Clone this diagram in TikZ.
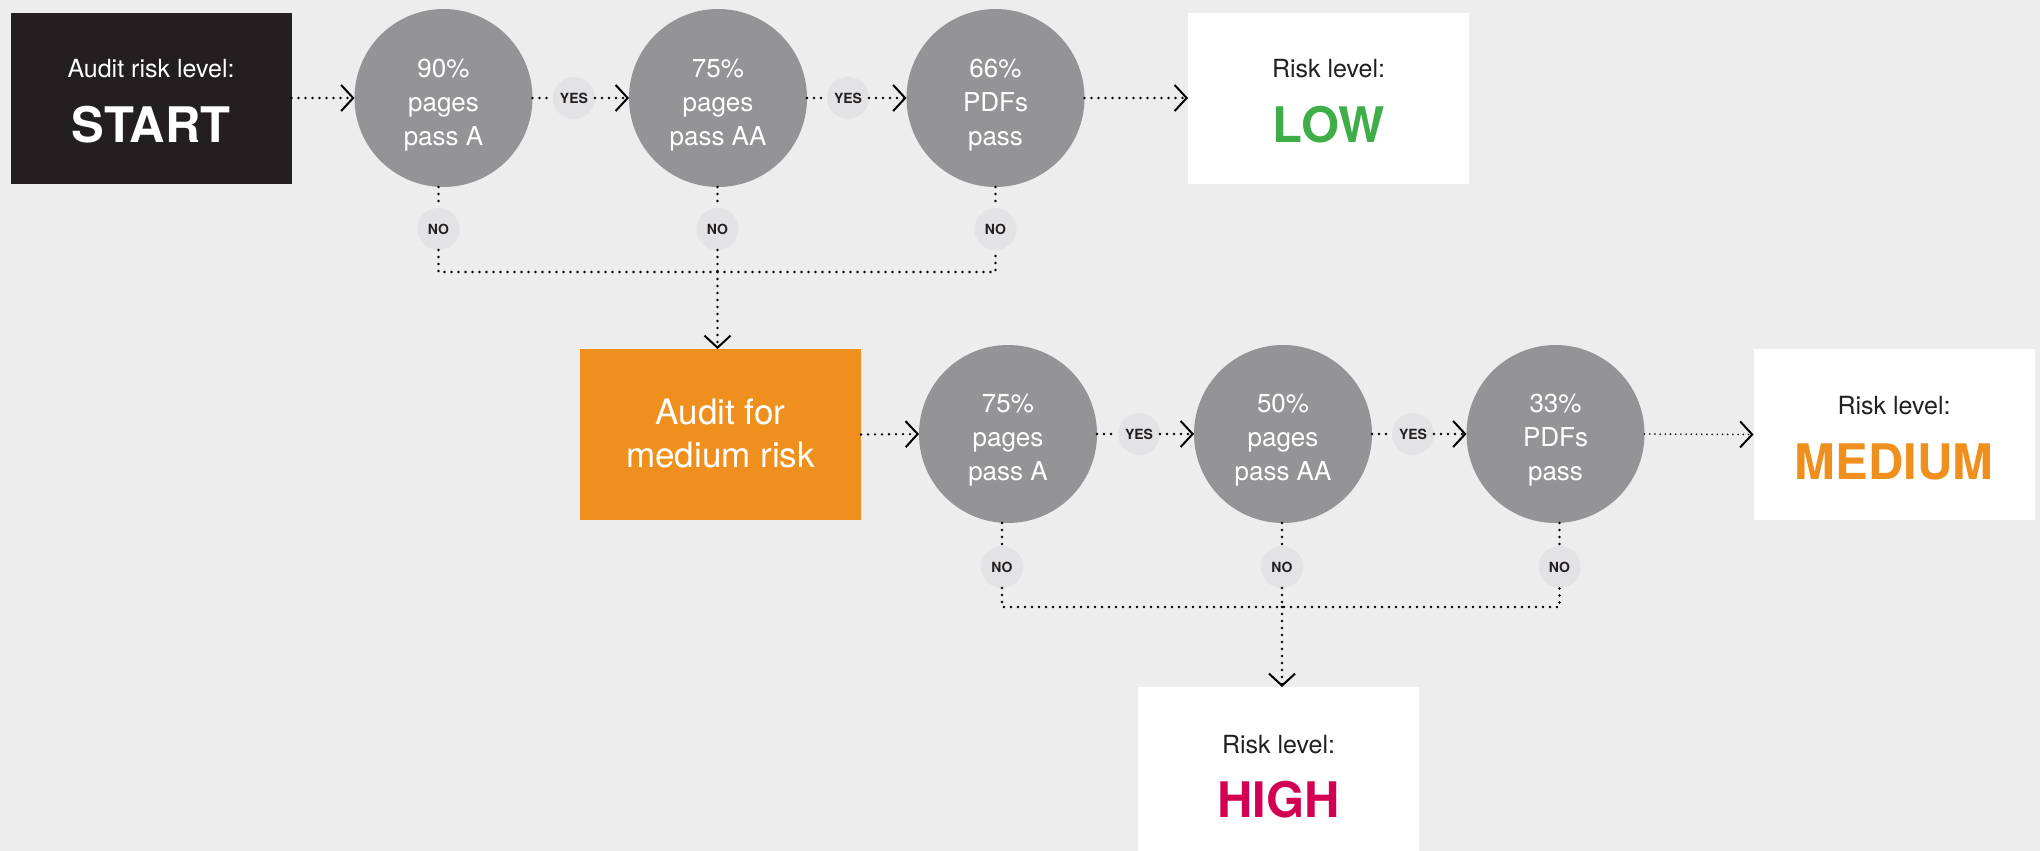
\documentclass[tikz,border=0pt]{standalone}
\usepackage{fontspec}
\setmainfont{TeX Gyre Heros}
\usetikzlibrary{arrows.meta,calc}
\definecolor{bgc}{HTML}{EDEDED}
\definecolor{cgrey}{HTML}{949497}
\definecolor{lblgrey}{HTML}{E3E3E5}
\definecolor{darkc}{HTML}{231F20}
\definecolor{corange}{HTML}{EF901E}
\definecolor{cgreen}{HTML}{3FAE49}
\definecolor{cmag}{HTML}{D20052}
\begin{document}
\begin{tikzpicture}[x=0.5pt,y=-0.5pt,
  circ/.style={circle, fill=cgrey, minimum size=89pt, inner sep=0pt, outer sep=0pt},
  ctext/.style={align=center, text=white, inner sep=0pt, font=\fontsize{13}{17}\selectfont},
  yn/.style={circle, fill=lblgrey, minimum size=21pt, inner sep=0pt, outer sep=0pt, text=darkc, font=\bfseries\fontsize{7}{8}\selectfont},
  rbox/.style={rectangle, minimum width=140.5pt, minimum height=85.5pt, inner sep=0pt, outer sep=0pt},
  boxhead/.style={anchor=base, inner sep=0pt, font=\fontsize{12.5}{15}\selectfont},
  boxbig/.style={anchor=base, inner sep=0pt, font=\bfseries\fontsize{24.5}{29}\selectfont},
  conn/.style={draw=black, line width=1.3pt, dash pattern=on 0pt off 3.5pt, line cap=round},
  fineconn/.style={draw=black, line width=0.9pt, dash pattern=on 0pt off 2.6pt, line cap=round},
  tipped/.style={-{Straight Barb[length=6pt, width=13pt, line width=1pt]}}
]
\useasboundingbox (0,0) rectangle (2040,851);
\fill[bgc] (0,0) rectangle (2040,851);

% boxes
\node[rbox, fill=darkc] (start) at (151,98) {};
\node[rbox, fill=white] (low) at (1328.5,98) {};
\node[rbox, fill=corange] (med) at (720.5,434.5) {};
\node[rbox, fill=white] (medium) at (1894,434.5) {};
\node[rbox, fill=white] (high) at (1278.5,772.5) {};

% box texts
\node[boxhead, text=white] (tstart1) at ([yshift=-32.5pt]start.north) {Audit risk level:};
\node[boxbig, text=white] (tstart2) at ([yshift=-65pt]start.north) {START};
\node[boxhead, text=darkc] (tlow1) at ([yshift=-32.5pt]low.north) {Risk level:};
\node[boxbig, text=cgreen] (tlow2) at ([yshift=-65pt]low.north) {LOW};
\node[boxhead, text=darkc] (tmedium1) at ([yshift=-32.5pt]medium.north) {Risk level:};
\node[boxbig, text=corange] (tmedium2) at ([yshift=-65pt]medium.north) {MEDIUM};
\node[boxhead, text=darkc] (thigh1) at ([yshift=-33pt]high.north) {Risk level:};
\node[boxbig, text=cmag] (thigh2) at ([yshift=-65pt]high.north) {HIGH};
\node[align=center, text=white, inner sep=0pt, font=\fontsize{17.5}{21.5}\selectfont] (tmed) at ([yshift=0.5pt]med.center) {Audit for\\medium risk};

% circles
\node[circ] (c1) at (443.5,98) {};
\node[circ] (c2) at (718,98) {};
\node[circ] (c3) at (995.5,98) {};
\node[circ] (c4) at (1008,434) {};
\node[circ] (c5) at (1283,434) {};
\node[circ] (c6) at (1555.5,434) {};
\node[ctext] (t1) at ([yshift=-3.5pt]c1.center) {90\%\\pages\\pass A};
\node[ctext] (t2) at ([yshift=-3.5pt]c2.center) {75\%\\pages\\pass AA};
\node[ctext] (t3) at ([yshift=-3.5pt]c3.center) {66\%\\PDFs\\pass};
\node[ctext] (t4) at ([yshift=-3pt]c4.center) {75\%\\pages\\pass A};
\node[ctext] (t5) at ([yshift=-3pt]c5.center) {50\%\\pages\\pass AA};
\node[ctext] (t6) at ([yshift=-3pt]c6.center) {33\%\\PDFs\\pass};

% yes / no labels
\node[yn] (y1) at (574,98) {YES};
\node[yn] (y2) at (848,98) {YES};
\node[yn] (y3) at (1139,434) {YES};
\node[yn] (y4) at (1413,434) {YES};
\node[yn] (n1) at (438.5,229) {NO};
\node[yn] (n2) at (717.5,229) {NO};
\node[yn] (n3) at (995.5,229) {NO};
\node[yn] (n4) at (1002,567) {NO};
\node[yn] (n5) at (1282,567) {NO};
\node[yn] (n6) at (1559.5,567) {NO};

\coordinate (bus1) at (0,272);
\coordinate (bus2) at (0,607);

% row 1 connectors
\draw[conn, tipped] (start.east) -- (c1.west);
\draw[conn] (c1.east) -- (y1.west);
\draw[conn, tipped] (y1.east) -- (c2.west);
\draw[conn] (c2.east) -- (y2.west);
\draw[conn, tipped] (y2.east) -- (c3.west);
\draw[conn, tipped] (c3.east) -- (low.west);
\draw[conn] (n1.north |- c1.south) -- (n1.north);
\draw[conn] (n2.north |- c2.south) -- (n2.north);
\draw[conn] (n3.north |- c3.south) -- (n3.north);
\draw[conn] (n1.south) -- (n1.south |- bus1) -- (n3.south |- bus1) -- (n3.south);
\draw[conn] (n2.south) -- (n2.south |- bus1);
\draw[conn, tipped] (n2.south |- bus1) -- (n2.south |- med.north);

% row 2 connectors
\draw[conn, tipped] (med.east) -- (c4.west);
\draw[conn] (c4.east) -- (y3.west);
\draw[conn, tipped] (y3.east) -- (c5.west);
\draw[conn] (c5.east) -- (y4.west);
\draw[conn, tipped] (y4.east) -- (c6.west);
\draw[fineconn, tipped] (c6.east) -- (medium.west);
\draw[conn] (n4.north |- c4.south) -- (n4.north);
\draw[conn] (n5.north |- c5.south) -- (n5.north);
\draw[conn] (n6.north |- c6.south) -- (n6.north);
\draw[conn] (n4.south) -- (n4.south |- bus2) -- (n6.south |- bus2) -- (n6.south);
\draw[conn] (n5.south) -- (n5.south |- bus2);
\draw[conn, tipped] (n5.south |- bus2) -- (n5.south |- high.north);
\end{tikzpicture}
\end{document}
